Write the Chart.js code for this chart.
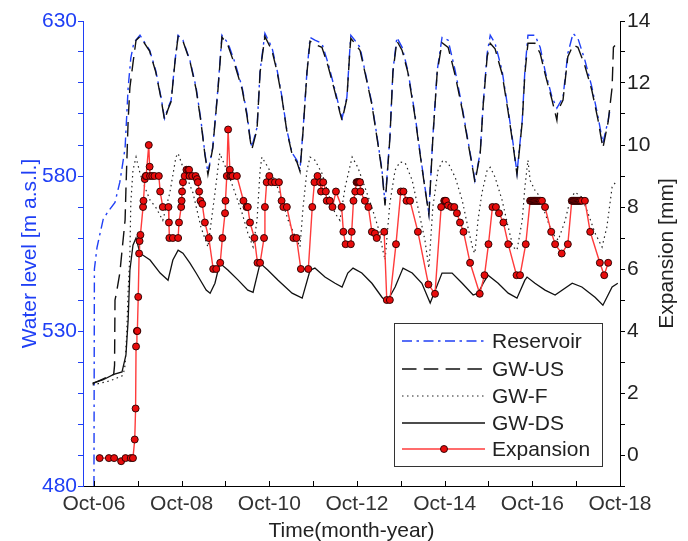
<!DOCTYPE html>
<html>
<head>
<meta charset="utf-8">
<script src="https://cdn.jsdelivr.net/npm/chart.js@4.4.0/dist/chart.umd.min.js"></script>
<style>
  html, body { margin: 0; padding: 0; background: #fff; }
  #wrap { width: 688px; height: 541px; }
</style>
</head>
<body>
<div id="wrap"><canvas id="levels" width="688" height="541"></canvas></div>
<script>
// time axis: decimal years, ticks every October
const timeTicks = [2006.75, 2007.75, 2008.75, 2009.75, 2010.75, 2011.75, 2012.75, 2013.75, 2014.75, 2015.75, 2016.75, 2017.75, 2018.75]
const timeLabels = ['Oct-06', '', 'Oct-08', '', 'Oct-10', '', 'Oct-12', '', 'Oct-14', '', 'Oct-16', '', 'Oct-18']
const levelTicks = [480, 490, 500, 510, 520, 530, 540, 550, 560, 570, 580, 590, 600, 610, 620, 630]
const levelLabelled = [480, 530, 580, 630]
const expansionTicks = [-1, 0, 1, 2, 3, 4, 5, 6, 7, 8, 9, 10, 11, 12, 13, 14]
const expansionLabelled = [0, 2, 4, 6, 8, 10, 12, 14]

// [year, m a.s.l.]
const reservoir = [
  [2006.75,480],[2006.76,550],[2006.82,557],[2006.96,566],[2007.07,568.5],[2007.23,571.5],[2007.34,578],[2007.46,589],[2007.53,608.5],[2007.59,618],[2007.66,623],[2007.80,625.4],
  [2008.02,620.6],[2008.16,614],[2008.28,605.4],[2008.36,598.6],[2008.44,602],[2008.51,604.4],[2008.60,617.3],[2008.67,625.4],
  [2008.78,623.8],[2008.94,617.3],[2009.08,608.6],[2009.19,598],[2009.28,587.4],[2009.35,581],[2009.46,589.3],[2009.58,608.6],[2009.67,625.4],
  [2009.81,622.8],[2009.97,616.4],[2010.13,608.6],[2010.24,600.2],[2010.31,592.5],[2010.35,589.3],[2010.47,595.7],[2010.54,614],[2010.65,626],
  [2010.81,621.5],[2010.93,614],[2011.04,605.4],[2011.15,594.8],[2011.27,587.4],[2011.38,585.1],[2011.45,582],[2011.52,594.8],[2011.61,614],[2011.68,624.7],
  [2011.79,623.8],[2011.95,622.8],[2012.09,616.4],[2012.25,607.7],[2012.36,601.2],[2012.41,598.6],[2012.52,605.4],[2012.59,621.5],[2012.61,625.4],
  [2012.70,623.8],[2012.82,621.5],[2012.93,614],[2013.09,603.5],[2013.21,592.5],[2013.32,582],[2013.39,571.2],[2013.50,592.5],[2013.57,614],[2013.66,624.7],
  [2013.78,621.5],[2013.91,614],[2014.07,600.2],[2014.19,587.4],[2014.30,576.4],[2014.39,568],[2014.48,592.5],[2014.58,614],[2014.69,624.7],
  [2014.83,623.8],[2014.99,614],[2015.15,602.2],[2015.28,591.5],[2015.40,582],[2015.44,578.6],[2015.56,587.4],[2015.63,603.5],[2015.72,619.6],[2015.79,625.4],
  [2015.90,622.8],[2016.06,614],[2016.20,601.2],[2016.31,590.6],[2016.40,581],[2016.52,598],[2016.58,614],[2016.65,625.4],
  [2016.81,625.4],[2016.93,621.5],[2017.04,614],[2017.20,605.4],[2017.31,601.9],[2017.45,605.4],[2017.56,619.6],[2017.68,626],
  [2017.79,624.4],[2017.95,617.3],[2018.11,608.6],[2018.25,599],[2018.36,590.6],[2018.48,598],[2018.53,602]
]

const gwUS = [
  [2006.72,513],[2006.95,514.5],[2007.20,516],[2007.22,519],[2007.23,540],[2007.26,542],[2007.34,548.7],[2007.46,565.8],[2007.48,576],[2007.53,598],[2007.57,608.6],[2007.64,616.4],[2007.71,623.8],[2007.80,625],
  [2008.02,620.3],[2008.16,613.5],[2008.28,605],[2008.36,598],[2008.44,601.5],[2008.51,604],[2008.60,617],[2008.67,625],
  [2008.78,623.5],[2008.94,617],[2009.08,608],[2009.19,597.5],[2009.28,587],[2009.35,580.5],[2009.46,589],[2009.58,608],[2009.67,624.8],
  [2009.81,622],[2009.97,615.5],[2010.13,608],[2010.24,599.5],[2010.31,592],[2010.35,588.5],[2010.47,595],[2010.54,613.5],[2010.65,625],
  [2010.81,620.5],[2010.93,613.5],[2011.04,605],[2011.15,594.5],[2011.27,587],[2011.38,584.5],[2011.45,581.5],[2011.52,594.5],[2011.61,613.5],[2011.68,623.5],
  [2011.79,622.5],[2011.95,621.5],[2012.09,615.5],[2012.25,607],[2012.36,600.5],[2012.41,598],[2012.52,605],[2012.59,621],[2012.61,624.4],
  [2012.70,622.8],[2012.82,620.5],[2012.93,613.5],[2013.09,603],[2013.21,592],[2013.32,581.5],[2013.39,570.5],[2013.50,592],[2013.57,613.5],[2013.66,623.6],
  [2013.78,620.5],[2013.91,613.5],[2014.07,599.5],[2014.19,587],[2014.30,576],[2014.39,567.5],[2014.48,592],[2014.58,613.5],[2014.69,623],
  [2014.83,621.5],[2014.99,612.5],[2015.15,601.5],[2015.28,591],[2015.40,581.5],[2015.44,578],[2015.56,587],[2015.63,603],[2015.72,618.5],[2015.79,622.8],
  [2015.90,621],[2016.06,613],[2016.20,600.5],[2016.31,590],[2016.40,580.5],[2016.52,597.5],[2016.58,613],[2016.65,622.8],
  [2016.81,622.8],[2016.93,619.5],[2017.04,613],[2017.20,604.5],[2017.31,598],[2017.33,601],[2017.45,604.5],[2017.56,618.5],[2017.68,622.2],
  [2017.79,621.5],[2017.95,615.5],[2018.11,607.5],[2018.25,598],[2018.36,589],[2018.48,597.5],[2018.57,608.6],[2018.60,621.5],[2018.68,622.8]
]

const gwF = [
  [2006.72,512.6],[2007.11,513.9],[2007.39,515.5],[2007.43,516.8],[2007.46,519],[2007.50,530],[2007.53,543],[2007.57,555],[2007.59,571.2],[2007.64,581.9],[2007.71,586.1],
  [2007.80,580.9],[2007.91,576.4],[2008.03,572.2],[2008.16,569.9],[2008.32,565.7],[2008.48,574.5],[2008.62,586.1],[2008.67,587.3],
  [2008.78,582.8],[2009.01,574.5],[2009.19,563.5],[2009.35,557.1],[2009.51,574.5],[2009.62,587.3],
  [2009.81,580.9],[2009.97,574.5],[2010.13,568],[2010.26,561.6],[2010.38,557.1],[2010.47,565.7],[2010.54,581.9],[2010.58,586.1],
  [2010.72,582.8],[2010.88,578.6],[2011.04,572.2],[2011.18,565.7],[2011.38,559.3],[2011.45,557.1],[2011.52,569.9],[2011.61,581.9],[2011.68,586.1],
  [2011.79,585.1],[2011.95,580.9],[2012.09,574.5],[2012.25,568],[2012.36,565.7],[2012.48,576.4],[2012.64,586.1],
  [2012.77,582.8],[2012.93,576.4],[2013.09,569.9],[2013.23,563.5],[2013.34,556.1],[2013.39,552.9],[2013.50,571.2],[2013.62,581.9],[2013.73,584.5],
  [2013.85,584.2],[2014.01,578.6],[2014.14,569.9],[2014.30,559.3],[2014.39,550.3],[2014.48,569.9],[2014.60,581.9],[2014.71,585.1],
  [2014.83,584.2],[2014.99,579.6],[2015.15,572.2],[2015.28,563.5],[2015.40,556.1],[2015.44,555.1],[2015.51,565.7],[2015.60,574.5],[2015.72,581.9],[2015.79,582.8],
  [2015.90,579.6],[2016.06,572.2],[2016.20,563.5],[2016.31,557.1],[2016.40,556.1],[2016.52,565.7],[2016.58,576.4],[2016.65,585.1],
  [2016.70,578.6],[2016.81,575.4],[2016.93,573.2],[2017.04,568],[2017.20,561.6],[2017.34,559.3],[2017.50,565.7],[2017.61,572.2],[2017.72,574.8],
  [2017.88,573.2],[2018.02,568],[2018.18,561.6],[2018.34,557.1],[2018.45,563.5],[2018.57,576.4],[2018.68,578.6]
]

const gwDS = [
  [2006.72,513.2],[2006.95,514.2],[2007.20,516],[2007.39,516.8],[2007.48,522.3],[2007.53,533.5],[2007.57,549.6],[2007.64,557.7],[2007.71,560],
  [2007.80,555.1],[2008.03,552.9],[2008.26,548.7],[2008.44,546.4],[2008.55,552.9],[2008.67,556.1],
  [2008.78,555.1],[2008.94,551.9],[2009.08,548.7],[2009.31,543.2],[2009.40,542.2],[2009.51,545.4],[2009.62,551.9],
  [2009.81,549.6],[2010.04,546.4],[2010.26,543.2],[2010.38,542.5],[2010.54,551.9],
  [2010.72,549.6],[2010.95,546.4],[2011.27,542.2],[2011.50,540.6],[2011.68,549.6],
  [2011.79,550.3],[2012.02,547.4],[2012.25,545.4],[2012.41,544.2],[2012.54,548.7],[2012.66,550.3],
  [2012.86,548.7],[2013.09,545.4],[2013.32,540.9],[2013.43,539.3],[2013.62,544.2],[2013.80,550.3],
  [2014.01,548.7],[2014.23,545.4],[2014.42,539],[2014.69,548.7],
  [2014.92,548.7],[2015.15,545.4],[2015.40,541.6],[2015.51,542.2],[2015.63,545.4],[2015.74,548],
  [2015.97,545.4],[2016.20,542.2],[2016.40,540.6],[2016.58,546.4],[2016.63,547.4],
  [2016.81,545.4],[2017.04,543.2],[2017.27,541.6],[2017.66,545.4],
  [2017.88,544.2],[2018.18,540.9],[2018.36,538.3],[2018.57,544.2],[2018.70,545.4]
]

// [year, mm]
const expansion = [
  [2006.88,-0.1],[2007.09,-0.1],[2007.21,-0.1],[2007.37,-0.2],[2007.47,-0.1],[2007.59,-0.1],[2007.64,-0.1],
  [2007.68,0.5],[2007.70,1.5],[2007.71,3.5],[2007.73,4.0],[2007.74,4.0],[2007.76,5.1],
  [2007.78,6.5],[2007.79,6.9],[2007.81,7.1],[2007.87,8.0],[2007.88,8.2],[2007.91,8.9],[2007.93,9.0],[2007.94,9.0],
  [2008.00,10.0],[2008.02,9.3],[2008.03,9.0],[2008.08,9.0],[2008.13,9.0],[2008.23,9.0],[2008.26,8.5],[2008.32,8.0],
  [2008.45,8.0],[2008.46,7.5],[2008.47,7.0],[2008.55,7.0],[2008.67,7.0],[2008.69,7.5],[2008.74,8.0],[2008.75,8.2],[2008.76,8.5],
  [2008.78,8.8],[2008.82,9.0],[2008.86,9.2],[2008.90,9.2],[2008.92,9.2],[2008.93,9.0],[2008.99,9.0],[2009.07,9.0],[2009.10,8.9],
  [2009.12,8.8],[2009.15,8.5],[2009.18,8.2],[2009.22,8.1],[2009.28,7.5],[2009.37,7.0],[2009.47,6.0],[2009.54,6.0],[2009.63,6.2],
  [2009.68,7.0],[2009.74,7.8],[2009.75,8.2],[2009.78,9.0],[2009.81,10.5],[2009.85,9.2],[2009.86,9.0],[2009.88,9.0],[2009.91,9.0],[2010.01,9.0],
  [2010.16,8.2],[2010.23,8.0],[2010.26,8.0],[2010.31,7.5],[2010.41,7.0],[2010.48,6.2],[2010.54,6.2],[2010.63,7.0],[2010.65,8.0],
  [2010.69,8.8],[2010.75,9.0],[2010.80,8.8],[2010.88,8.8],[2010.97,8.8],[2011.03,8.2],[2011.07,8.0],[2011.15,8.0],[2011.30,7.0],
  [2011.37,7.0],[2011.47,6.0],[2011.64,6.0],[2011.73,8.0],[2011.78,8.8],[2011.85,9.0],[2011.91,8.8],[2011.93,8.5],[2011.98,8.8],
  [2012.04,8.5],[2012.06,8.2],[2012.13,8.2],[2012.19,8.0],[2012.27,8.5],[2012.40,8.0],[2012.44,7.2],[2012.49,6.8],[2012.61,6.8],
  [2012.63,7.2],[2012.67,8.2],[2012.71,8.5],[2012.74,8.8],[2012.76,8.8],[2012.78,8.8],[2012.80,8.8],[2012.82,8.8],[2012.83,8.5],
  [2012.93,8.2],[2013.01,8.0],[2013.09,7.2],[2013.16,7.15],[2013.20,7.0],[2013.37,7.2],[2013.43,5.0],[2013.50,5.0],[2013.64,6.8],
  [2013.75,8.5],[2013.81,8.5],[2013.88,8.2],[2013.96,8.2],[2014.14,7.2],[2014.38,5.5],[2014.53,5.2],[2014.67,8.0],[2014.74,8.2],
  [2014.76,8.2],[2014.78,8.2],[2014.83,8.05],[2014.90,8.0],[2014.97,8.0],[2015.03,7.8],[2015.10,7.5],[2015.18,7.2],[2015.33,6.2],
  [2015.55,5.2],[2015.66,5.8],[2015.75,6.8],[2015.84,8.0],[2015.92,8.0],[2015.99,7.8],[2016.09,7.5],[2016.20,6.8],[2016.39,5.8],
  [2016.47,5.8],[2016.60,6.8],[2016.70,8.2],[2016.72,8.2],[2016.74,8.2],[2016.76,8.2],[2016.78,8.2],[2016.80,8.2],[2016.82,8.2],
  [2016.84,8.2],[2016.86,8.2],[2016.88,8.2],[2016.90,8.2],[2016.92,8.2],[2016.94,8.2],[2016.97,8.2],[2017.04,8.0],[2017.18,7.2],
  [2017.27,6.8],[2017.42,6.5],[2017.56,6.8],[2017.65,8.2],[2017.67,8.2],[2017.69,8.2],[2017.71,8.2],[2017.73,8.2],[2017.75,8.2],
  [2017.77,8.2],[2017.79,8.2],[2017.81,8.2],[2017.83,8.2],[2017.85,8.2],[2017.88,8.2],[2017.95,8.2],[2018.07,7.2],[2018.29,6.2],
  [2018.39,5.8],[2018.48,6.2]
]

const BLUE = '#1f3ff5'
const FONT = 'Liberation Sans, Arial, sans-serif'
Chart.defaults.font.family = FONT
Chart.defaults.font.size = 21

function pts(arr) {
  return arr.map(p => ({ x: p[0], y: p[1] }))
}

// titles, inward time ticks and the boxed legend
const decor = {
  id: 'decor',
  afterDraw(chart) {
    const ctx = chart.ctx
    const area = chart.chartArea
    const xs = chart.scales.x
    const mid = (area.top + area.bottom) / 2
    ctx.save()

    ctx.strokeStyle = '#000'
    ctx.lineWidth = 1
    timeTicks.forEach(v => {
      const px = Math.round(xs.getPixelForValue(v)) + 0.5
      ctx.beginPath()
      ctx.moveTo(px, area.bottom)
      ctx.lineTo(px, area.bottom - 5)
      ctx.stroke()
    })

    ctx.font = '21px ' + FONT
    ctx.textAlign = 'center'
    ctx.textBaseline = 'alphabetic'
    ctx.fillStyle = '#222'
    ctx.fillText('Time(month-year)', (area.left + area.right) / 2, 537)

    ctx.save()
    ctx.translate(36, mid)
    ctx.rotate(-Math.PI / 2)
    ctx.fillStyle = BLUE
    ctx.fillText('Water level [m a.s.l.]', 0, 0)
    ctx.restore()

    ctx.save()
    ctx.translate(673, mid)
    ctx.rotate(-Math.PI / 2)
    ctx.fillStyle = '#222'
    ctx.fillText('Expansion [mm]', 0, 0)
    ctx.restore()

    // legend
    const bx = 394.5, by = 323.5, bw = 208, bh = 143
    ctx.fillStyle = '#fff'
    ctx.fillRect(bx, by, bw, bh)
    ctx.strokeStyle = '#333'
    ctx.lineWidth = 1
    ctx.strokeRect(bx, by, bw, bh)
    const rowY = [341, 369, 396, 423, 449]
    chart.data.datasets.forEach((ds, i) => {
      const y = rowY[i]
      ctx.save()
      ctx.strokeStyle = ds.borderColor
      ctx.lineWidth = ds.borderWidth
      ctx.setLineDash(ds.borderDash || [])
      ctx.beginPath()
      ctx.moveTo(402, y)
      ctx.lineTo(485, y)
      ctx.stroke()
      ctx.restore()
      if (ds.pointRadius > 0) {
        ctx.beginPath()
        ctx.arc(444, y, ds.pointRadius, 0, Math.PI * 2)
        ctx.fillStyle = ds.pointBackgroundColor
        ctx.fill()
        ctx.strokeStyle = ds.pointBorderColor
        ctx.lineWidth = ds.pointBorderWidth
        ctx.stroke()
      }
      ctx.fillStyle = '#222'
      ctx.textAlign = 'left'
      ctx.textBaseline = 'middle'
      ctx.fillText(ds.label, 492, y + 1)
    })
    ctx.restore()
  }
}

const ctx = document.querySelector('#levels')
const levelsChart = new Chart(ctx, {
  type: 'line',
  data: {
    datasets: [
      {
        label: 'Reservoir',
        data: pts(reservoir),
        borderColor: BLUE,
        borderWidth: 1.4,
        borderDash: [10, 4.5, 2.5, 4.5],
        pointRadius: 0,
        yAxisID: 'y',
        order: 4
      },
      {
        label: 'GW-US',
        data: pts(gwUS),
        borderColor: '#111',
        borderWidth: 1.4,
        borderDash: [14.5, 7.3],
        pointRadius: 0,
        yAxisID: 'y',
        order: 3
      },
      {
        label: 'GW-F',
        data: pts(gwF),
        borderColor: '#222',
        borderWidth: 1.2,
        borderDash: [1.5, 3.5],
        pointRadius: 0,
        yAxisID: 'y',
        order: 2
      },
      {
        label: 'GW-DS',
        data: pts(gwDS),
        borderColor: '#111',
        borderWidth: 1.3,
        pointRadius: 0,
        yAxisID: 'y',
        order: 1
      },
      {
        label: 'Expansion',
        data: pts(expansion),
        borderColor: '#ff3b3b',
        borderWidth: 1.4,
        pointRadius: 3.5,
        pointBackgroundColor: '#e80c0c',
        pointBorderColor: '#220000',
        pointBorderWidth: 0.9,
        yAxisID: 'y2',
        order: 0
      }
    ]
  },
  options: {
    responsive: false,
    animation: false,
    elements: { line: { tension: 0 } },
    layout: { autoPadding: false, padding: { top: 21, left: 0, right: 0, bottom: 0 } },
    plugins: { legend: { display: false }, tooltip: { enabled: false }, title: { display: false } },
    scales: {
      x: {
        type: 'linear',
        min: 2006.5,
        max: 2018.75,
        afterBuildTicks: s => { s.ticks = timeTicks.map(v => ({ value: v })) },
        afterFit: s => { s.height = 55 },
        ticks: {
          autoSkip: false,
          maxRotation: 0,
          padding: 6,
          color: '#333',
          callback: (v) => { const i = timeTicks.indexOf(v); return i < 0 ? '' : timeLabels[i] }
        },
        grid: { drawOnChartArea: false, drawTicks: false },
        border: { display: true, color: '#000', width: 1 }
      },
      y: {
        position: 'left',
        min: 480,
        max: 630,
        afterBuildTicks: s => { s.ticks = levelTicks.map(v => ({ value: v })) },
        afterFit: s => { s.width = 83 },
        ticks: {
          autoSkip: false,
          padding: 1,
          color: BLUE,
          callback: v => levelLabelled.includes(v) ? String(v) : ''
        },
        grid: { drawOnChartArea: false, drawTicks: true, tickLength: 5, color: BLUE },
        border: { display: true, color: BLUE, width: 1 }
      },
      y2: {
        position: 'right',
        min: -1,
        max: 14,
        afterBuildTicks: s => { s.ticks = expansionTicks.map(v => ({ value: v })) },
        afterFit: s => { s.width = 68 },
        ticks: {
          autoSkip: false,
          padding: 2,
          color: '#222',
          callback: v => expansionLabelled.includes(v) ? String(v) : ''
        },
        grid: { drawOnChartArea: false, drawTicks: true, tickLength: 5, color: '#000' },
        border: { display: true, color: '#000', width: 1 }
      }
    }
  },
  plugins: [decor]
})
</script>
</body>
</html>
